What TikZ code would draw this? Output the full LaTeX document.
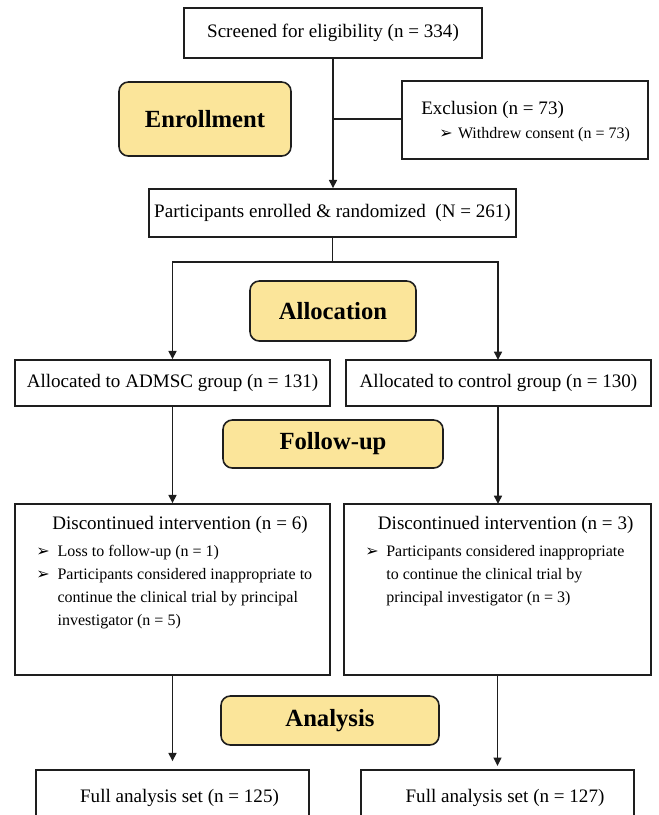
\documentclass[tikz,border=0pt]{standalone}
\usepackage{fontspec}
\setmainfont{Liberation Serif}
\newfontfamily\dejavu{DejaVu Sans}
\usetikzlibrary{arrows.meta}
\definecolor{ybox}{HTML}{FBE59A}
\definecolor{edgec}{HTML}{1E1E1E}
\newcommand\mybullet{{\dejavu\fontsize{12}{12}\selectfont ➢}}
\begin{document}
\begin{tikzpicture}[x=0.75pt,y=-0.75pt,
  wh/.style 2 args={minimum width=#1*0.75pt, minimum height=#2*0.75pt},
  box/.style={draw=edgec, line width=1.1pt, inner sep=0pt, fill=white, font=\fontsize{14.3}{17}\selectfont},
  phase/.style={draw=edgec, line width=1.2pt, fill=ybox, rounded corners=7pt, inner sep=0pt, font=\fontsize{18.5}{22}\selectfont\bfseries},
  main/.style={font=\fontsize{14.3}{17}\selectfont, inner sep=0pt},
  small/.style={font=\fontsize{12}{17.25}\selectfont, inner sep=0pt},
  arr/.style={draw=edgec, line width=1.1pt, -{Triangle[length=6.3pt,width=6pt]}},
  conn/.style={draw=edgec, line width=1.1pt},
]
\useasboundingbox (0,0) rectangle (658,815);
\clip (0,0) rectangle (658,815);

% boxes
\node[box, wh={298}{50}] (screen) at (333,33) {Screened for eligibility (n = 334)};
\node[phase, wh={172}{74}] (enroll) at (205,119) {Enrollment};
\node[box, wh={246}{78}] (excl) at (525,120) {};
\node[main, anchor=west] (exclt) at (421,110) {Exclusion (n = 73)};
\node[small, anchor=west] (exclb) at (439,135) {\mybullet\hspace{4pt}Withdrew consent (n = 73)};
\node[box, wh={367}{48}] (enrolled) at (332.5,213) {Participants enrolled \& randomized\ \ (N = 261)};
\node[phase, wh={166}{60}] (alloc) at (333,311) {Allocation};
\node[box, wh={315}{46}] (admsc) at (172.5,383) {Allocated to ADMSC group (n = 131)};
\node[box, wh={305}{46}] (control) at (498.5,383) {Allocated to control group (n = 130)};
\node[phase, wh={220}{48}] (follow) at (333,444) {Follow-up};
\node[box, wh={315}{171}] (discL) at (172.5,589.5) {};
\node[box, wh={307}{171}] (discR) at (497.5,589.5) {};
\node[main, anchor=west] (discLt) at (52,525) {Discontinued intervention (n = 6)};
\node[main, anchor=west] (discRt) at (377.7,525) {Discontinued intervention (n = 3)};
\node[small, anchor=north west] (discLb) at (36,540) {\begin{tabular}{@{}p{16pt}@{}l@{}}
\mybullet & Loss to follow-up (n = 1)\\
\mybullet & Participants considered inappropriate to\\
 & continue the clinical trial by principal\\
 & investigator (n = 5)
\end{tabular}};
\node[small, anchor=north west] (discRb) at (365,540) {\begin{tabular}{@{}p{15.8pt}@{}l@{}}
\mybullet & Participants considered inappropriate\\
 & to continue the clinical trial by\\
 & principal investigator (n = 3)
\end{tabular}};
\node[phase, wh={218}{49}] (analysis) at (330,720.5) {Analysis};
\node[box, wh={273}{80}] (fullL) at (172.5,810) {};
\node[box, wh={273}{80}] (fullR) at (497.5,810) {};
\node[main] (fullLt) at (179.5,798) {Full analysis set (n = 125)};
\node[main] (fullRt) at (505,798) {Full analysis set (n = 127)};

% connectors
\draw[arr] (screen.south) -- (screen.south |- enrolled.north);
\draw[conn] (excl.west |- 0,119) -- (screen.south |- 0,119);
\draw[conn] (enrolled.south) -- (332.5,262) coordinate (split);
\draw[arr] (split) -| (admsc.north);
\draw[arr] (split) -| (498,360);
\draw[arr] (admsc.south) -- (discL.north);
\draw[arr] (498,406) -- (498,504);
\draw[arr, shorten >=6pt] (discL.south) -- (fullL.north);
\draw[arr, shorten >=2.5pt] (discR.south) -- (fullR.north);
\end{tikzpicture}
\end{document}
